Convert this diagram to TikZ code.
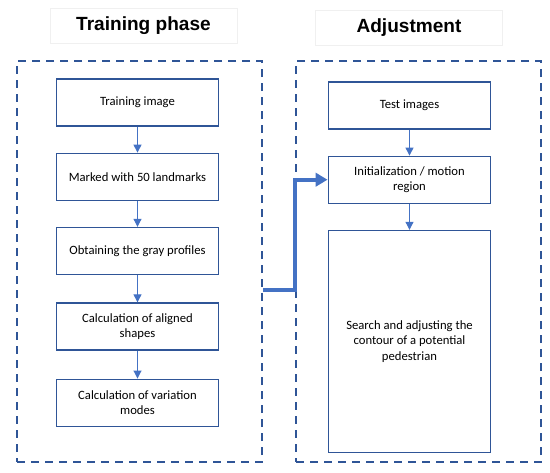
\documentclass[tikz,border=0pt]{standalone}
\usepackage{fontspec}
\setmainfont{Carlito}
\newfontfamily\headfont{Liberation Sans}
\usetikzlibrary{arrows.meta,positioning}
\definecolor{frameblue}{HTML}{2F5597}
\definecolor{boxblue}{HTML}{2F5597}
\definecolor{arrowblue}{HTML}{4472C4}

\begin{document}
\begin{tikzpicture}[x=0.75pt,y=-0.75pt,font=\fontsize{9.5}{11.6}\selectfont,
    stepbox/.style={draw=boxblue,line width=0.9pt,minimum width=122pt,minimum height=35.25pt,align=center,inner sep=2pt},
    frame/.style={draw=frameblue,line width=2pt,dash pattern=on 6pt off 4.5pt,minimum width=183.75pt,minimum height=300.75pt,inner sep=0pt},
    phase/.style={draw=black!6,minimum width=140pt,minimum height=26pt,font=\headfont\bfseries\fontsize{14.3}{16}\selectfont},
    link/.style={draw=arrowblue,line width=0.75pt,-{Triangle[width=6pt,length=6pt]}},
    bigarrow/.style={draw=arrowblue,line width=3pt,-{Triangle[width=10pt,length=9pt]}}]
  \useasboundingbox (0,0) rectangle (550,472);
  % phase titles
  \node[phase] (ttrain) at (143.5,26) {Training phase};
  \node[phase] (tadjust) at (409,27.5) {Adjustment};
  % dashed frames
  \node[frame] (trainframe) at (139.5,261.5) {};
  \node[frame] (adjustframe) at (418.5,261.5) {};
  % training phase
  \node[stepbox] (train) at (137.5,102.5) {Training image};
  \node[stepbox,below=19.5pt of train] (mark) {Marked with 50 landmarks};
  \node[stepbox,below=19.5pt of mark] (gray) {Obtaining the gray profiles};
  \node[stepbox,below=20.5pt of gray] (align) {Calculation of aligned\\shapes};
  \node[stepbox,below=21pt of align] (modes) {Calculation of variation\\modes};
  % adjustment
  \node[stepbox] (test) at (409.5,105.5) {Test images};
  \node[stepbox,below=19.5pt of test] (init) {Initialization / motion\\region};
  \node[stepbox,minimum height=166.5pt,below=19.5pt of init] (search) {Search and adjusting the\\contour of a potential\\pedestrian};
  \draw[link] (train) -- (mark);
  \draw[link] (mark) -- (gray);
  \draw[link] (gray) -- (align);
  \draw[link] (align) -- (modes);
  \draw[link] (test) -- (init);
  \draw[link] (init) -- (search);
  \draw[bigarrow] ([yshift=-21.4pt]trainframe.east) -- ++(32,0) |- (init.west);
\end{tikzpicture}
\end{document}
